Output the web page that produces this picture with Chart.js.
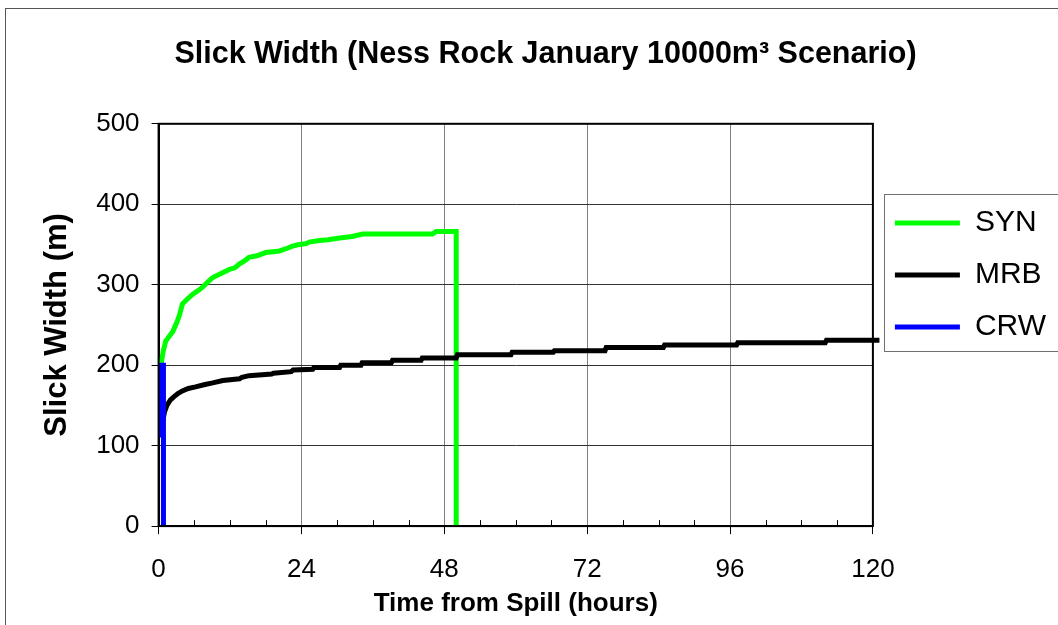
<!DOCTYPE html>
<html>
<head>
<meta charset="utf-8">
<script src="https://cdn.jsdelivr.net/npm/chart.js@4.4.1/dist/chart.umd.min.js"></script>
<style>
  html, body { margin: 0; padding: 0; background: #fff; }
  #marco { position: relative; width: 1058px; height: 625px; overflow: hidden; }
  #borde { position: absolute; left: 5px; top: 8px; width: 1100px; height: 700px; border-left: 1px solid #555; border-top: 1px solid #555; }
  canvas { position: absolute; left: 0; top: 0; }
</style>
</head>
<body>
<div id="marco">
  <div id="borde"></div>
  <canvas id="grafico" width="1058" height="625"></canvas>
</div>
<script>
const titulo = 'Slick Width (Ness Rock January 10000m³ Scenario)';
const series = ['SYN', 'MRB', 'CRW'];
const colores = ['#00ff00', '#000000', '#0000ff'];

const horasEtiqueta = [0, 24, 48, 72, 96, 120];
const anchoEtiqueta = [0, 100, 200, 300, 400, 500];

const synHoras = [0, 0.2, 0.5, 0.8, 1.2, 1.8, 2.4, 3.0, 3.5, 4.0, 4.8, 5.7, 6.5, 7.4, 8.2, 9.1, 10.5, 11.9, 12.8, 13.6,
  14.5, 15.2, 16.5, 18.0, 19.2, 20.3, 21.5, 22.5, 23.6, 24.8, 25.3, 27.0, 28.5, 30.4, 32.5, 34.3, 40.0, 46.0, 46.6, 50.0, 50.0];
const synAncho = [115, 160, 205, 218, 230, 236, 242, 252, 262, 276, 282, 288, 292, 297, 303, 309, 314, 319, 321, 326,
  330, 334, 336, 340, 341, 342, 345, 348, 350, 351, 353, 355, 356, 358, 360, 363, 363, 363, 366, 366, 0];

const mrbHoras = [0.3, 1.0, 1.4, 2.0, 2.6, 3.3, 4.0, 5.0, 6.2, 7.8, 9.1, 10.8, 13.6, 14.0, 15.2, 19.0, 19.3, 22.3, 22.6,
  25.9, 26.1, 30.4, 30.6, 34.0, 34.2, 39.1, 39.3, 44.1, 44.3, 50.0, 50.2, 59.2, 59.4, 66.3, 66.5, 75.0, 75.2,
  84.8, 85.0, 97.1, 97.3, 112.0, 112.2, 121.1];
const mrbAncho = [115, 142, 150, 157, 161, 165, 168, 171, 173, 176, 178, 181, 183, 185, 187, 189, 190, 192, 194,
  195, 197, 197, 200, 200, 203, 203, 206, 206, 209, 209, 213, 213, 216, 216, 218, 218, 222,
  222, 225, 225, 228, 228, 231, 231];

const crwHoras = [0.05, 0.1, 0.82, 0.82];
const crwAncho = [110, 200, 200, 0];

function puntos(horas, anchos) {
  return horas.map((h, i) => ({ x: h, y: anchos[i] }));
}

Chart.defaults.font.family = '"Liberation Sans", Arial, sans-serif';
Chart.defaults.color = '#000';

const extras = {
  id: 'extras',
  afterDraw(chart) {
    const { ctx, chartArea: a, scales: { x } } = chart;
    ctx.save();
    ctx.strokeStyle = '#000';
    ctx.lineWidth = 1;
    x.ticks.forEach(t => {
      if (horasEtiqueta.includes(t.value)) return;
      const px = Math.round(x.getPixelForValue(t.value)) + 0.5;
      ctx.beginPath();
      ctx.moveTo(px, a.bottom);
      ctx.lineTo(px, a.bottom - 6);
      ctx.stroke();
    });
    ctx.lineWidth = 2;
    ctx.strokeRect(a.left, a.top, a.right - a.left, a.bottom - a.top);

    const cajas = chart.legend.legendHitBoxes;
    if (cajas && cajas.length) {
      const izq = Math.min(...cajas.map(c => c.left));
      const arriba = Math.min(...cajas.map(c => c.top));
      const abajo = Math.max(...cajas.map(c => c.top + c.height));
      ctx.strokeStyle = '#707070';
      ctx.lineWidth = 1;
      ctx.strokeRect(Math.round(izq - 11) + 0.5, Math.round(arriba - 14) + 0.5, chart.width, abajo - arriba + 23);
    }
    ctx.restore();
  }
};

new Chart(document.getElementById('grafico'), {
  type: 'line',
  data: {
    datasets: [
      { label: series[0], data: puntos(synHoras, synAncho), borderColor: colores[0], order: 3 },
      { label: series[1], data: puntos(mrbHoras, mrbAncho), borderColor: colores[1], order: 2, clip: 10 },
      { label: series[2], data: puntos(crwHoras, crwAncho), borderColor: colores[2], order: 1 }
    ].map(d => ({ ...d, backgroundColor: d.borderColor, borderWidth: 5, pointRadius: 0, tension: 0, fill: false }))
  },
  options: {
    responsive: false,
    animation: false,
    layout: { padding: { left: 35, right: 2, top: 0, bottom: 5.5 } },
    scales: {
      x: {
        type: 'linear',
        min: 0,
        max: 120,
        ticks: {
          stepSize: 6,
          autoSkip: false,
          maxRotation: 0,
          padding: 20.5,
          font: { size: 26 },
          callback: v => horasEtiqueta.includes(v) ? v : ''
        },
        grid: {
          color: c => c.tick && horasEtiqueta.includes(c.tick.value) ? '#808080' : 'rgba(0,0,0,0)',
          tickColor: c => c.tick && horasEtiqueta.includes(c.tick.value) ? '#000' : 'rgba(0,0,0,0)',
          tickLength: 8
        },
        border: { color: '#000', width: 2 },
        title: {
          display: true,
          text: 'Time from Spill (hours)',
          font: { size: 26, weight: 'bold' },
          padding: { top: -18, bottom: 0 }
        }
      },
      y: {
        min: 0,
        max: 500,
        afterBuildTicks: s => { s.ticks = anchoEtiqueta.map(v => ({ value: v })); },
        ticks: { padding: 12, font: { size: 26 } },
        grid: { color: '#333', tickColor: '#000', tickLength: 7 },
        border: { color: '#000', width: 2 },
        title: {
          display: true,
          text: 'Slick Width (m)',
          font: { size: 31, weight: 'bold' },
          padding: { top: 4, bottom: 8 }
        }
      }
    },
    plugins: {
      title: {
        display: true,
        text: titulo,
        font: { size: 30.5, weight: 'bold' },
        padding: { top: 36, bottom: 51.2 }
      },
      legend: {
        position: 'right',
        align: 'start',
        title: { display: true, text: '', font: { size: 10 }, padding: { top: 174, bottom: 0 } },
        labels: {
          usePointStyle: true,
          pointStyle: 'line',
          pointStyleWidth: 65,
          padding: 22,
          font: { size: 30 },
          sort: (a, b) => a.datasetIndex - b.datasetIndex
        }
      },
      tooltip: { enabled: false }
    }
  },
  plugins: [extras]
});
</script>
</body>
</html>
